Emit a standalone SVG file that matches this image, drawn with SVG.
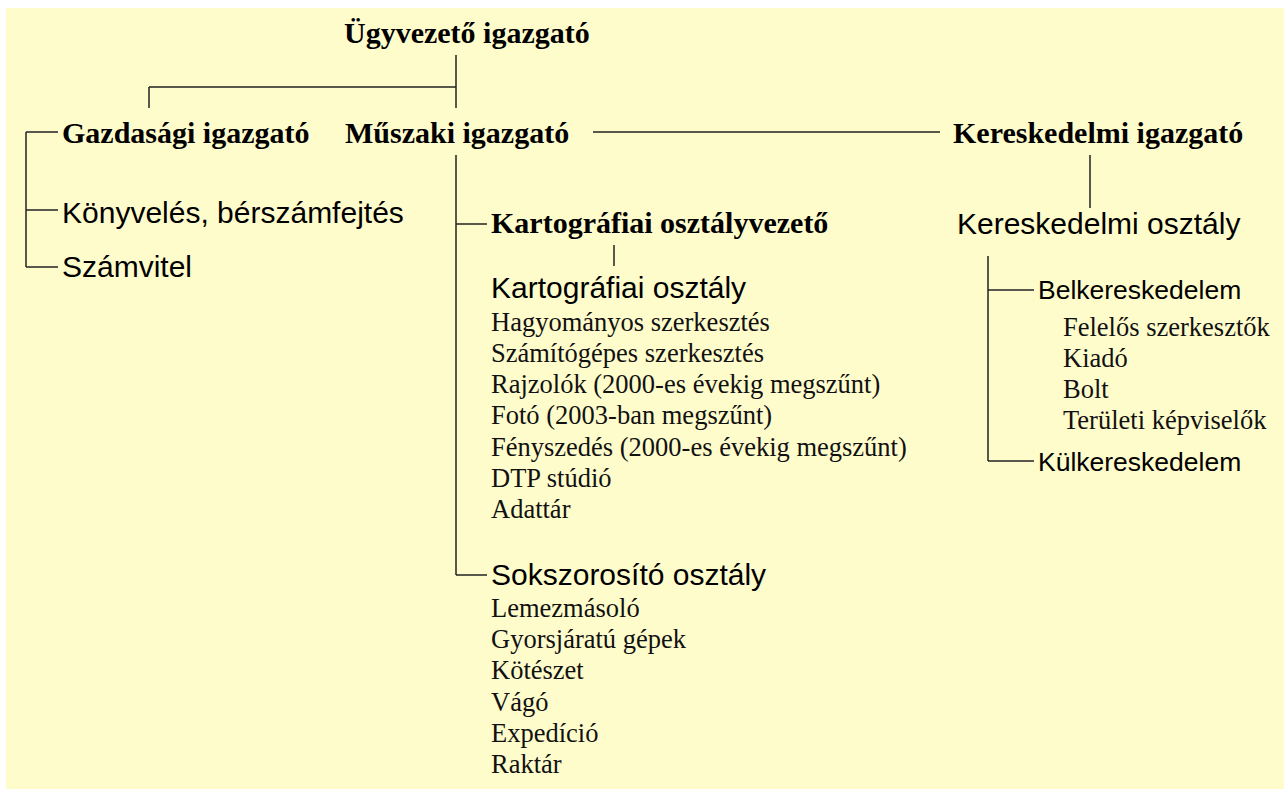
<svg xmlns="http://www.w3.org/2000/svg" width="1284" height="789" viewBox="0 0 1284 789">
<style>
.bg{fill:#fffccc}
.b{font-family:"Liberation Serif",serif;font-weight:bold;font-size:30px;fill:#000}
.s{font-family:"Liberation Sans",Arial,sans-serif;font-size:30px;fill:#000}
.s2{font-family:"Liberation Sans",Arial,sans-serif;font-size:26.5px;fill:#000}
.r{font-family:"Liberation Serif",serif;font-size:26.5px;fill:#111}
.c line{stroke:#222;stroke-width:1.5}
</style>
<rect width="1284" height="789" fill="#fff"/>
<rect class="bg" x="6" y="8" width="1278" height="781"/>
<g class="c" id="connectors">
<line x1="456" y1="55" x2="456" y2="108"/>
<line x1="149" y1="87" x2="456" y2="87"/>
<line x1="149" y1="87" x2="149" y2="108"/>
<line x1="593" y1="132" x2="940" y2="132"/>
<line x1="26" y1="132" x2="26" y2="267"/>
<line x1="26" y1="132" x2="58" y2="132"/>
<line x1="26" y1="210" x2="58" y2="210"/>
<line x1="26" y1="267" x2="58" y2="267"/>
<line x1="456" y1="155" x2="456" y2="575"/>
<line x1="456" y1="224" x2="487" y2="224"/>
<line x1="456" y1="575" x2="487" y2="575"/>
<line x1="614" y1="245" x2="614" y2="266"/>
<line x1="1090" y1="155" x2="1090" y2="208"/>
<line x1="988" y1="256" x2="988" y2="461"/>
<line x1="988" y1="290" x2="1034" y2="290"/>
<line x1="988" y1="461" x2="1034" y2="461"/>
</g>
<g id="ugyvezeto"><text class="b" x="344" y="43">Ügyvezető igazgató</text></g>
<g id="gazdasagi"><text class="b" x="62" y="143">Gazdasági igazgató</text></g>
<g id="muszaki"><text class="b" x="345" y="143">Műszaki igazgató</text></g>
<g id="kereskedelmi"><text class="b" x="953" y="143">Kereskedelmi igazgató</text></g>
<g id="konyveles"><text class="s" x="62" y="223">Könyvelés, bérszámfejtés</text></g>
<g id="szamvitel"><text class="s" x="62" y="277">Számvitel</text></g>
<g id="kartovezeto"><text class="b" x="491" y="233">Kartográfiai osztályvezető</text></g>
<g id="kartoosztaly">
<text class="s" x="491" y="298">Kartográfiai osztály</text>
<text class="r" x="491" y="331">Hagyományos szerkesztés</text>
<text class="r" x="491" y="362">Számítógépes szerkesztés</text>
<text class="r" x="491" y="393">Rajzolók (2000-es évekig megszűnt)</text>
<text class="r" x="491" y="424">Fotó (2003-ban megszűnt)</text>
<text class="r" x="491" y="456">Fényszedés (2000-es évekig megszűnt)</text>
<text class="r" x="491" y="487">DTP stúdió</text>
<text class="r" x="491" y="518">Adattár</text>
</g>
<g id="sokszorosito">
<text class="s" x="491" y="585">Sokszorosító osztály</text>
<text class="r" x="491" y="617">Lemezmásoló</text>
<text class="r" x="491" y="648">Gyorsjáratú gépek</text>
<text class="r" x="491" y="679">Kötészet</text>
<text class="r" x="491" y="711">Vágó</text>
<text class="r" x="491" y="742">Expedíció</text>
<text class="r" x="491" y="773">Raktár</text>
</g>
<g id="keroszt"><text class="s" x="957" y="234">Kereskedelmi osztály</text></g>
<g id="belker">
<text class="s2" x="1038" y="299">Belkereskedelem</text>
<text class="r" x="1063" y="336">Felelős szerkesztők</text>
<text class="r" x="1063" y="367">Kiadó</text>
<text class="r" x="1063" y="398">Bolt</text>
<text class="r" x="1063" y="429">Területi képviselők</text>
</g>
<g id="kulker"><text class="s2" x="1038" y="471">Külkereskedelem</text></g>
</svg>
